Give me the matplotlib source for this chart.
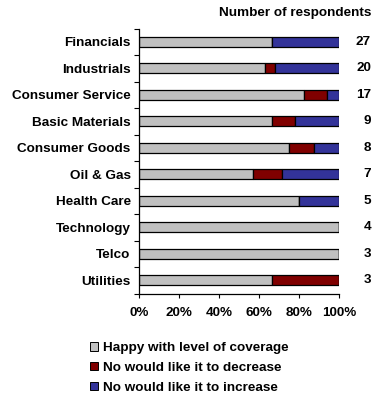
import matplotlib
matplotlib.use("Agg")
import matplotlib.pyplot as plt
import numpy as np
from matplotlib.patches import Patch

plt.rcParams['font.family'] = ['Liberation Sans', 'DejaVu Sans']
plt.rcParams['font.weight'] = 'bold'

sectors = ["Financials", "Industrials", "Consumer Service", "Basic Materials",
           "Consumer Goods", "Oil & Gas", "Health Care", "Technology", "Telco",
           "Utilities"]
respondents = [27, 20, 17, 9, 8, 7, 5, 4, 3, 3]
happy = [66.7, 63.0, 82.4, 66.7, 75.0, 57.1, 80.0, 100.0, 100.0, 66.7]
decrease = [0.0, 5.0, 11.8, 11.1, 12.5, 14.3, 0.0, 0.0, 0.0, 33.3]
increase = [33.3, 32.0, 5.8, 22.2, 12.5, 28.6, 20.0, 0.0, 0.0, 0.0]

series_names = ["Happy with level of coverage", "No would like it to decrease",
                "No would like it to increase"]
colors = ["#C0C0C0", "#800000", "#333399"]
x_ticks = [0, 20, 40, 60, 80, 100]

FS = 9.7

fig = plt.figure(figsize=(3.74, 3.94), dpi=100)
ax = fig.add_axes([139 / 374, 1 - 293.5 / 394, 200 / 374, 265 / 394])

y = np.arange(len(sectors))
left = np.zeros(len(sectors))
for vals, col in zip([happy, decrease, increase], colors):
    vals = np.array(vals)
    ax.barh(y, vals, left=left, height=0.38, color=col,
            edgecolor="black", linewidth=0.9)
    left += vals

ax.set_xlim(0, 100)
ax.set_ylim(len(sectors) - 0.5, -0.5)
ax.set_xticks(x_ticks)
ax.set_xticklabels([f"{t}%" for t in x_ticks], fontsize=FS, fontweight="bold")
ax.set_yticks(y)
ax.set_yticklabels(sectors, fontsize=FS, fontweight="bold")
ax.tick_params(axis="y", length=0, pad=6)
ax.set_yticks(np.arange(-0.5, len(sectors), 1), minor=True)
ax.tick_params(axis="y", which="minor", length=3.5, width=0.8, direction="out")
ax.tick_params(axis="x", length=3, width=0.8, direction="out", pad=7)

for side in ["top", "right"]:
    ax.spines[side].set_visible(False)
for side in ["left", "bottom"]:
    ax.spines[side].set_linewidth(0.9)

for yi, n in zip(y, respondents):
    ax.text(1.16, yi, str(n), transform=ax.get_yaxis_transform(),
            ha="right", va="center", fontsize=FS, fontweight="bold")

fig.text(371 / 374, 1 - 13 / 394, "Number of respondents", ha="right",
         va="center", fontsize=FS, fontweight="bold")

handles = [Patch(facecolor=c, edgecolor="black", linewidth=0.7) for c in colors]
fig.legend(handles, series_names, loc="upper left",
           bbox_to_anchor=(90 / 374, 1 - 342 / 394), frameon=False,
           prop={"size": FS, "weight": "bold"}, handlelength=0.6,
           handleheight=0.6, handletextpad=0.35, labelspacing=0.58,
           borderaxespad=0, borderpad=0)

fig.savefig("out.png", dpi=100)
